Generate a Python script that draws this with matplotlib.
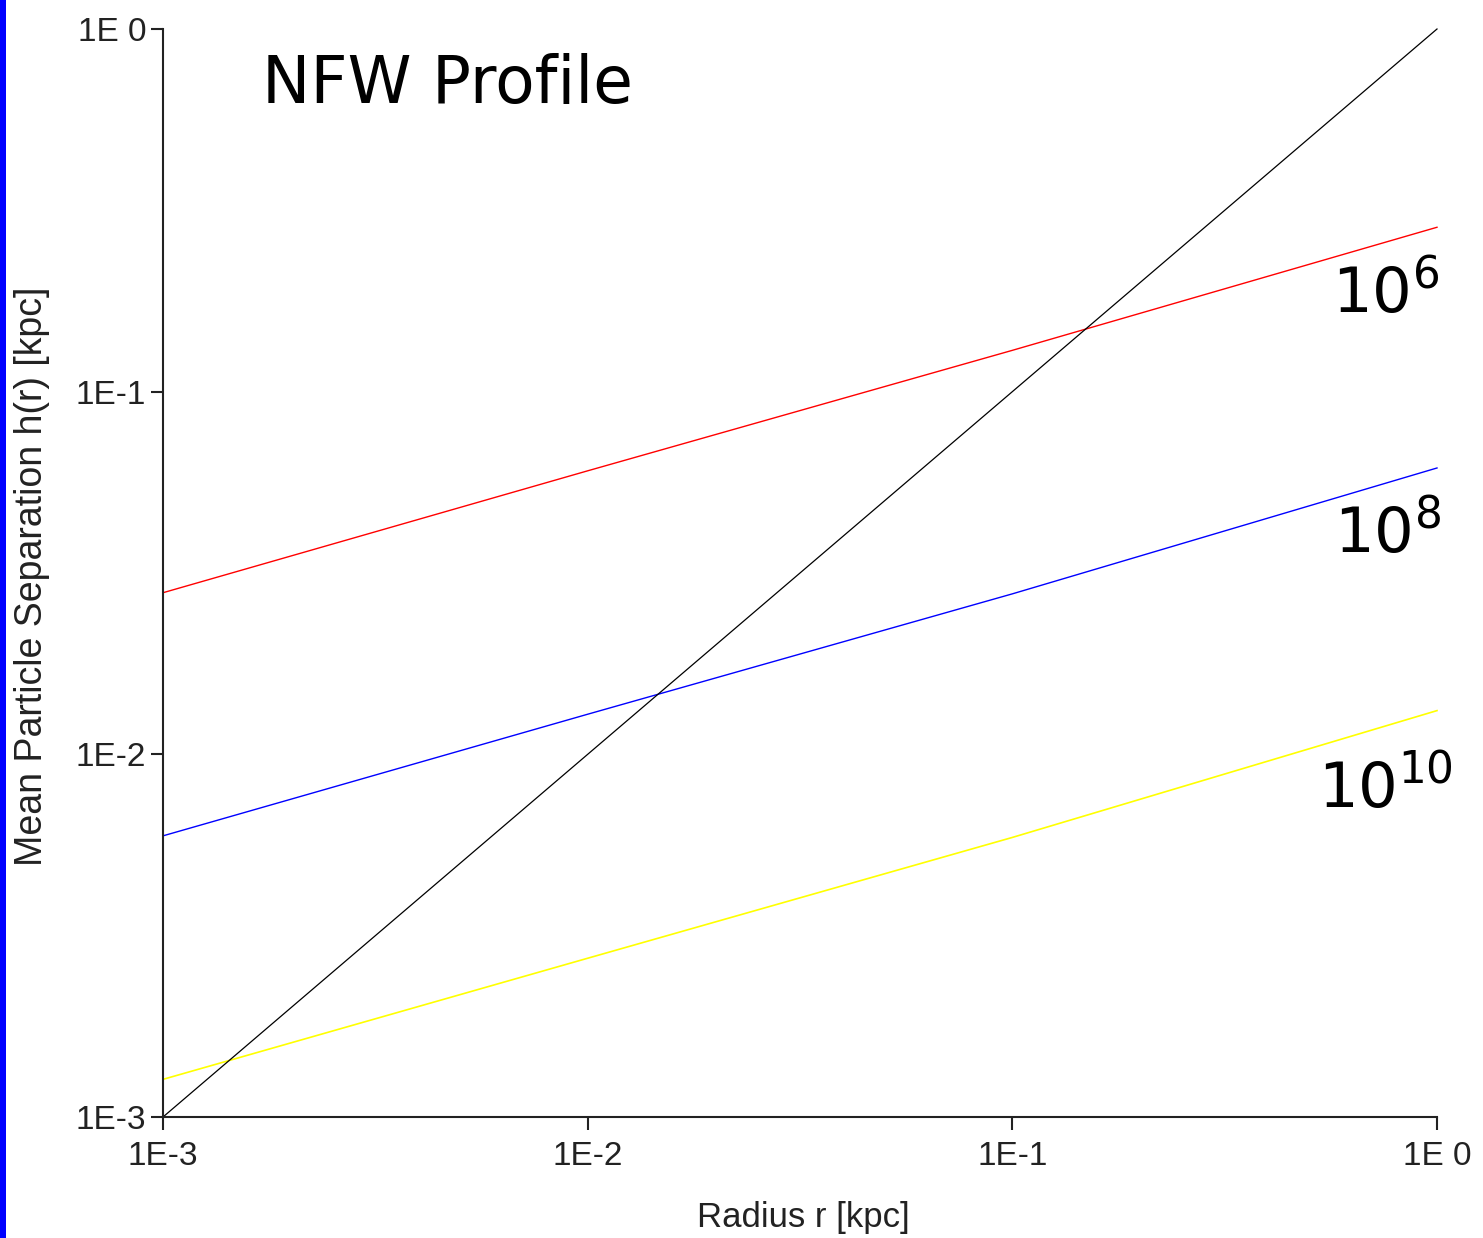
import matplotlib
matplotlib.use("Agg")
import matplotlib.pyplot as plt
from matplotlib.patches import Rectangle

# ---- data ----
radius = [1e-3, 1e-2, 1e-1, 1e0]
h_1e6 = [0.0279, 0.0605, 0.130, 0.284]
h_1e8 = [0.00596, 0.0129, 0.0277, 0.0616]
h_1e10 = [0.00127, 0.00274, 0.0059, 0.0132]
radius_line = [1e-3, 1e0]
h_equal = [1e-3, 1e0]

xticks = [1e-3, 1e-2, 1e-1, 1e0]
xtick_labels = ["1E-3", "1E-2", "1E-1", "1E 0"]
yticks = [1e-3, 1e-2, 1e-1, 1e0]
ytick_labels = ["1E-3", "1E-2", "1E-1", "1E 0"]
series_labels = [r"$\mathregular{10^{6}}$", r"$\mathregular{10^{8}}$", r"$\mathregular{10^{10}}$"]

W, H = 1483, 1238
fig = plt.figure(figsize=(W / 100, H / 100), dpi=100)
fig.patch.set_facecolor("white")

L, R, T, B = 163, 1437, 29, 1117
ax = fig.add_axes([L / W, 1 - B / H, (R - L) / W, (B - T) / H])
ax.set_xscale("log")
ax.set_yscale("log")
ax.set_xlim(1e-3, 1)
ax.set_ylim(1e-3, 1)

ax.plot(radius, h_1e6, color="#ff0000", lw=1.0, clip_on=False)
ax.plot(radius, h_1e8, color="#0000ff", lw=1.0, clip_on=False)
ax.plot(radius, h_1e10, color="#ffff00", lw=1.2, clip_on=False)
ax.plot(radius_line, h_equal, color="black", lw=0.9, clip_on=False)

for s in ["top", "right"]:
    ax.spines[s].set_visible(False)
for s in ["left", "bottom"]:
    ax.spines[s].set_linewidth(1.5)
    ax.spines[s].set_color("#222222")

ax.set_xticks(xticks)
ax.set_xticklabels(xtick_labels)
ax.set_yticks(yticks)
ax.set_yticklabels(ytick_labels)
ax.minorticks_off()
for lab in ax.get_xticklabels() + ax.get_yticklabels():
    lab.set_fontfamily("Liberation Sans")
    lab.set_fontsize(24)
    lab.set_color("#222222")
ax.tick_params(axis="x", which="major", length=9, width=1.5, pad=8, color="#222222")
ax.tick_params(axis="y", which="major", length=9, width=1.5, pad=3, color="#222222")

fig.text(32 / W, 1 - 576 / H, "Mean Particle Separation h(r) [kpc]", rotation=90,
         ha="center", va="center", fontfamily="Liberation Sans", fontsize=27, color="#222222")
fig.text(803 / W, 1 - 1217 / H, "Radius r [kpc]", ha="center", va="center",
         fontfamily="Liberation Sans", fontsize=25, color="#222222")

fig.text(262 / W, 1 - 103 / H, "NFW Profile", ha="left", va="baseline",
         fontfamily="DejaVu Sans", fontsize=46.5, color="black")

label_pos = [(1386, 313), (1387, 553), (1385, 808)]
for txt, (px, py) in zip(series_labels, label_pos):
    fig.text(px / W, 1 - py / H, txt, ha="center", va="baseline",
             fontfamily="DejaVu Sans", fontsize=45, color="black")

fig.patches.append(Rectangle((0, 0), 6 / W, 1, transform=fig.transFigure,
                             facecolor="#0000ff", edgecolor="none", zorder=10))

fig.savefig("out.png", dpi=100)
